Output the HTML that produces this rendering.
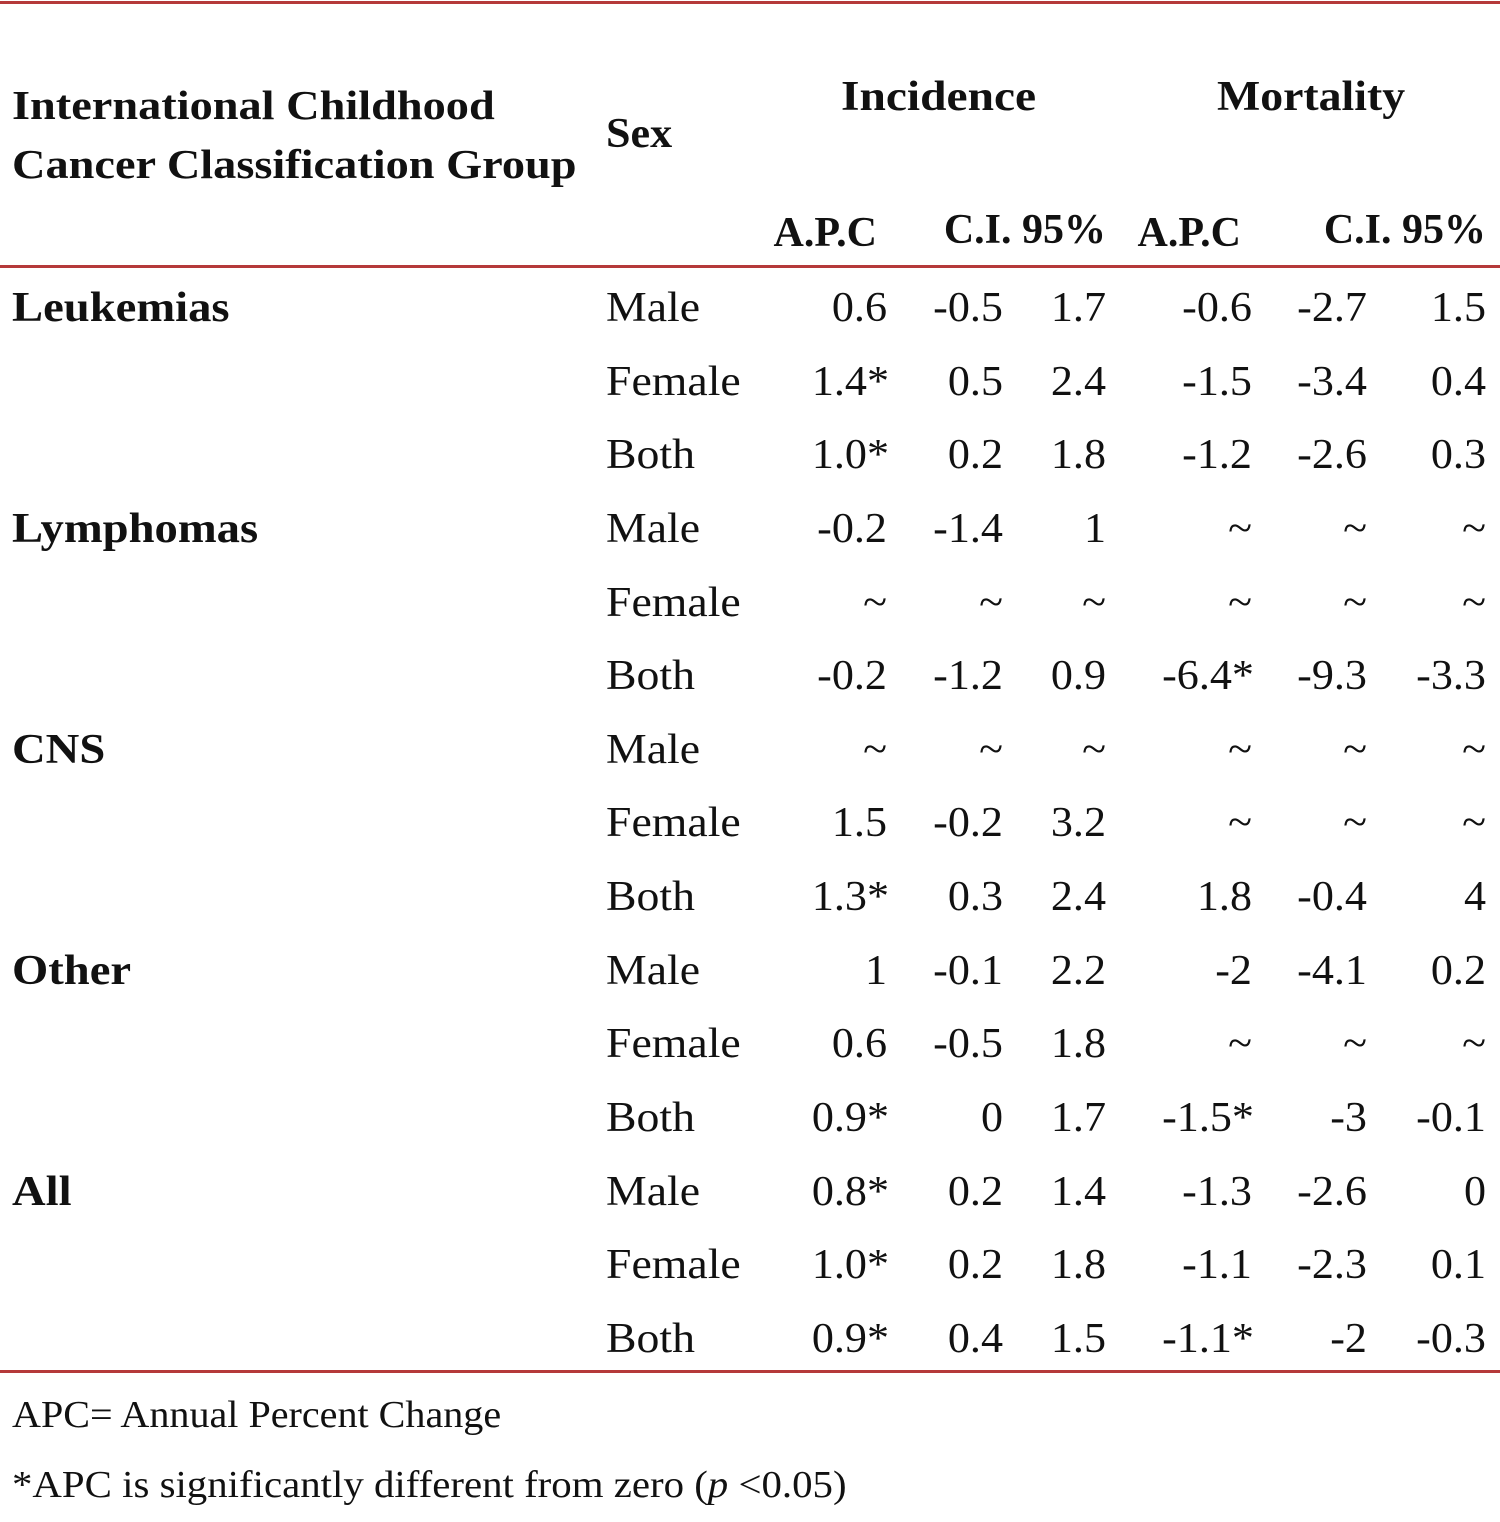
<!DOCTYPE html>
<html><head><meta charset="utf-8"><style>
body{margin:0;background:#fff;}
#c{position:relative;width:1500px;height:1522px;font-family:"Liberation Serif",serif;color:#111;overflow:hidden;}
.t{position:absolute;height:50px;line-height:50px;font-size:42px;white-space:nowrap;transform-origin:left center;}
.b{font-weight:bold;}
.r{text-align:right;width:200px;transform-origin:right center;transform:scaleX(1.05);}
.hl{position:absolute;left:0;width:1500px;height:3px;background:#b5393a;}
</style></head><body><div id="c">
<div class="hl" style="top:1px"></div>
<div class="hl" style="top:265px"></div>
<div class="hl" style="top:1370px"></div>
<div class="t b" style="left:12px;top:80px;font-size:41px;transform:scaleX(1.13)">International Childhood</div>
<div class="t b" style="left:12px;top:139px;font-size:41px;transform:scaleX(1.13)">Cancer Classification Group</div>
<div class="t b" style="left:606px;top:109px;transform:scaleX(1.05)">Sex</div>
<div class="t b" style="left:841px;top:72px;transform:scaleX(1.13)">Incidence</div>
<div class="t b" style="left:1217px;top:72px;transform:scaleX(1.09)">Mortality</div>
<div class="t b r" style="left:677px;top:208px;transform:none">A.P.C</div>
<div class="t b r" style="left:906px;top:205px;transform:none">C.I. 95%</div>
<div class="t b r" style="left:1041px;top:208px;transform:none">A.P.C</div>
<div class="t b r" style="left:1286px;top:205px;transform:none">C.I. 95%</div>
<div id="rows"></div>
<div class="t" style="left:12px;top:1390px;font-size:38px;transform:scaleX(1.055)">APC= Annual Percent Change</div>
<div class="t" style="left:12px;top:1460px;font-size:38px;transform:scaleX(1.075)">*APC is significantly different from zero (<i>p</i> &lt;0.05)</div>
</div>
<script>
var g=["Leukemias","Lymphomas","CNS","Other","All"];
var d=[["0.6","-0.5","1.7","-0.6","-2.7","1.5"],["1.4*","0.5","2.4","-1.5","-3.4","0.4"],["1.0*","0.2","1.8","-1.2","-2.6","0.3"],
["-0.2","-1.4","1","~","~","~"],["~","~","~","~","~","~"],["-0.2","-1.2","0.9","-6.4*","-9.3","-3.3"],
["~","~","~","~","~","~"],["1.5","-0.2","3.2","~","~","~"],["1.3*","0.3","2.4","1.8","-0.4","4"],
["1","-0.1","2.2","-2","-4.1","0.2"],["0.6","-0.5","1.8","~","~","~"],["0.9*","0","1.7","-1.5*","-3","-0.1"],
["0.8*","0.2","1.4","-1.3","-2.6","0"],["1.0*","0.2","1.8","-1.1","-2.3","0.1"],["0.9*","0.4","1.5","-1.1*","-2","-0.3"]];
var sx=["Male","Female","Both"],R=[887,1003,1106,1252,1367,1486],h="";
for(var i=0;i<15;i++){var y=308+i*73.64-25;
if(i%3==0)h+='<div class="t b" style="left:12px;top:'+y+'px;transform:scaleX(1.11)">'+g[i/3]+'</div>';
h+='<div class="t" style="left:606px;top:'+y+'px;transform:scaleX(1.09)">'+sx[i%3]+'</div>';
for(var j=0;j<6;j++){var v=d[i][j];var off=v.slice(-1)=="*"?-2:0;
h+='<div class="t r" style="left:'+(R[j]-200-off)+'px;top:'+y+'px">'+v+'</div>';}}
document.getElementById("rows").outerHTML=h;
</script>
</body></html>
